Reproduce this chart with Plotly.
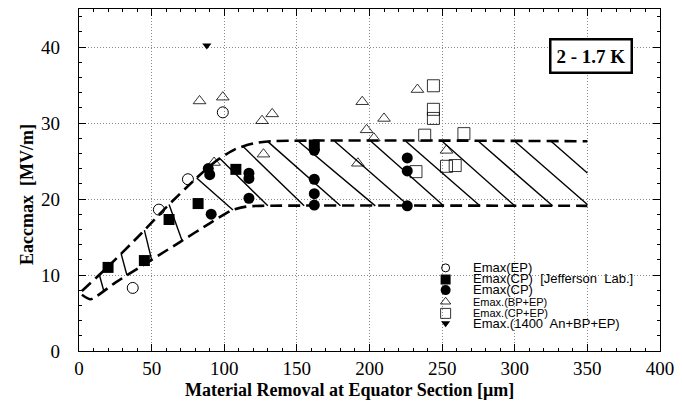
import numpy as np
import plotly.graph_objects as go

# ---- measured peak gradients ----
# Emax(EP)
ep_x = [37, 55, 75, 99]
ep_y = [8.3, 18.6, 22.6, 31.4]
# Emax(CP) [Jefferson Lab.]
jlab_x = [20, 45, 62, 82, 108, 162]
jlab_y = [11.0, 11.9, 17.3, 19.4, 23.9, 27.1]
# Emax(CP)
cp_x = [89, 90, 91, 117, 117, 117, 162, 162, 162, 162, 226, 226, 226]
cp_y = [24.0, 23.2, 18.0, 23.4, 22.7, 20.1, 26.4, 22.6, 20.7, 19.2, 25.4, 23.7, 19.1]
# Emax.(BP+EP)
bpep_x = [83, 99, 93, 126, 127, 133, 192, 195, 198, 203, 210, 233, 253]
bpep_y = [32.9, 33.4, 24.8, 30.3, 25.9, 31.2, 24.7, 32.8, 29.1, 28.0, 30.6, 34.4, 26.4]
# Emax.(CP+EP)
cpep_x = [244, 244, 244, 238, 265, 232, 253, 259]
cpep_y = [34.9, 31.8, 30.6, 28.4, 28.6, 23.6, 24.3, 24.4]
# Emax.(1400 An+BP+EP)
an_x = [88]
an_y = [40.2]

# ---- hatched band (trend envelope) ----
upper_x = [2, 20, 40, 60, 80, 95, 108, 120, 132, 350]
upper_y = [7.9, 11.1, 14.9, 18.9, 22.6, 25.1, 26.6, 27.3, 27.6, 27.6]
lower_x = [2, 8, 25, 50, 70, 90, 105, 115, 125, 350]
lower_y = [7.4, 6.8, 9.0, 12.0, 14.4, 16.8, 18.5, 19.0, 19.1, 19.1]
# hatch strokes: where each one leaves the upper edge and meets the lower edge
hatch_top_x = [14, 29, 45, 62, 81, 97, 113, 130, 151, 176, 201, 225, 250, 275, 300, 325]
hatch_bot_x = [17, 33, 50, 71, 106, 130, 155, 180, 204, 227, 251, 276, 300, 326, 351, 376]

legend_labels = ["Emax(EP)", "Emax(CP)  [Jefferson  Lab.]", "Emax(CP)",
                 "Emax.(BP+EP)", "Emax.(CP+EP)", "Emax.(1400  An+BP+EP)"]

x_ticks = list(range(0, 401, 50))
y_ticks = list(range(0, 41, 10))

SERIF = "Liberation Serif"
SANS = "Liberation Sans"

fig = go.Figure()

# hatch strokes, cut at the right end of the envelope
x_end = upper_x[-1]
hx, hy = [], []
for xt, xb in zip(hatch_top_x, hatch_bot_x):
    yt = float(np.interp(xt, upper_x, upper_y))
    yb = float(np.interp(min(xb, x_end), lower_x, lower_y))
    if xb > x_end:
        yb = yt + (float(np.interp(x_end, lower_x, lower_y)) - yt) * (x_end - xt) / (xb - xt)
        xb = x_end
    hx += [xt, xb, None]
    hy += [yt, yb, None]
fig.add_trace(go.Scatter(x=hx, y=hy, mode="lines",
                         line=dict(color="black", width=1.4),
                         showlegend=False, hoverinfo="skip"))

for bx, by in ((upper_x, upper_y), (lower_x, lower_y)):
    fig.add_trace(go.Scatter(x=bx, y=by, mode="lines",
                             line=dict(color="black", width=2.6, dash="12px,6px",
                                       shape="spline", smoothing=0.6),
                             showlegend=False, hoverinfo="skip"))

series = [
    (ep_x, ep_y, "circle-open", 11, 1.0),
    (jlab_x, jlab_y, "square", 11, 0),
    (cp_x, cp_y, "circle", 11, 0),
    (bpep_x, bpep_y, "triangle-up-open", 11, 0.8),
    (cpep_x, cpep_y, "square-open", 12, 0.8),
    (an_x, an_y, "triangle-down", 8, 0),
]
for (sx, sy, sym, size, lw), name in zip(series, legend_labels):
    fig.add_trace(go.Scatter(x=sx, y=sy, mode="markers", name=name,
                             marker=dict(symbol=sym, size=size, color="black",
                                         line=dict(color="black", width=lw)),
                             showlegend=False))

# key: symbols on an overlay frame, labels as one left-aligned text block
key_y = [0.243, 0.209, 0.178, 0.144, 0.110, 0.081]
key_sizes = [8, 10, 10, 9, 10, 8]
key_fonts = [13, 13, 13, 11, 11, 13]
for (sx, sy, sym, size, lw), ky, ks in zip(series, key_y, key_sizes):
    fig.add_trace(go.Scatter(x=[0.631], y=[ky], xaxis="x2", yaxis="y2", mode="markers",
                             marker=dict(symbol=sym, size=ks, color="black",
                                         line=dict(color="black", width=lw)),
                             showlegend=False, hoverinfo="skip"))
key_text = "<br>".join(
    '<span style="font-size:%dpx">%s</span>' % (kf, name)
    for kf, name in zip(key_fonts, legend_labels))
fig.add_annotation(x=0.674, y=0.162, xref="paper", yref="paper", text=key_text,
                   showarrow=False, xanchor="left", yanchor="middle", align="left",
                   font=dict(family=SANS, size=8.6, color="black"))

axis_common = dict(
    showline=True, linecolor="black", linewidth=1.3, mirror="ticks",
    ticks="inside", ticklen=7, tickwidth=1, tickcolor="black",
    showgrid=True, gridcolor="#8a8a8a", gridwidth=1, griddash="1px,2px",
    zeroline=False, tickfont=dict(family=SERIF, size=19, color="black"),
)
fig.update_layout(
    width=682, height=406,
    margin=dict(l=79, r=17, t=8, b=55),
    paper_bgcolor="white", plot_bgcolor="white",
    showlegend=False,
    xaxis=dict(range=[0, 400], tickvals=x_ticks, ticklabelstandoff=0,
               minor=dict(ticks="inside", ticklen=3, dtick=10, tickcolor="black", showgrid=False),
               **axis_common),
    yaxis=dict(range=[0, 45], tickvals=y_ticks, ticklabelstandoff=14,
               minor=dict(ticks="inside", ticklen=3, dtick=2, tickcolor="black", showgrid=False),
               **axis_common),
    xaxis2=dict(range=[0, 1], overlaying="x", visible=False, fixedrange=True),
    yaxis2=dict(range=[0, 1], overlaying="y", visible=False, fixedrange=True),
)

fig.add_annotation(x=0.466, y=-0.1137, xref="paper", yref="paper",
                   text="<b>Material Removal at Equator Section [\u03bcm]</b>",
                   showarrow=False, yanchor="middle",
                   font=dict(family=SERIF, size=18, color="black"))
fig.add_annotation(x=-0.109, y=0.458, xref="paper", yref="paper",
                   text="<b>Eaccmax  [MV/m]</b>", textangle=-90,
                   showarrow=False, font=dict(family=SERIF, size=18, color="black"))
fig.add_annotation(x=0.954, y=0.8105, xref="paper", yref="paper",
                   text="<b>2 - 1.7 K</b>", showarrow=False,
                   xanchor="right", yanchor="bottom",
                   bordercolor="black", borderwidth=2.5, borderpad=5, bgcolor="white",
                   font=dict(family=SERIF, size=19, color="black"))

fig.write_html("out.html")
